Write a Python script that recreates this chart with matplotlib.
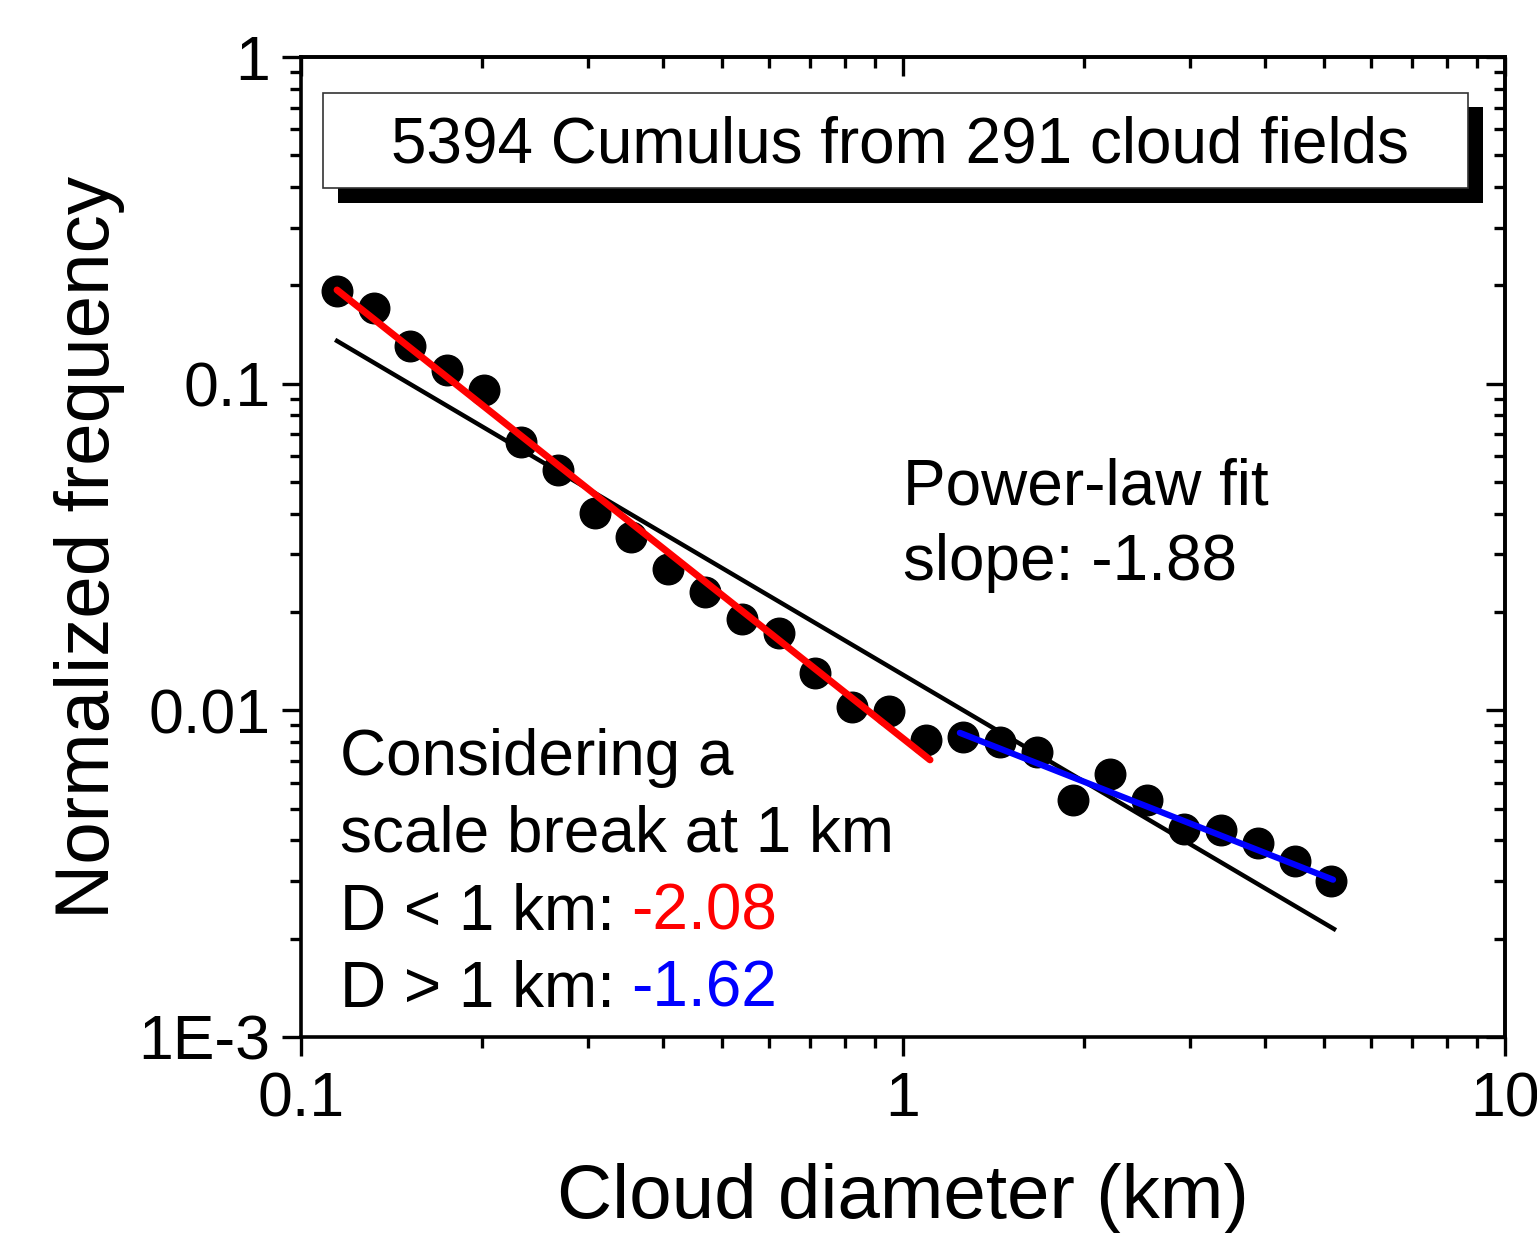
import matplotlib
matplotlib.use("Agg")
import matplotlib.pyplot as plt
from matplotlib.patches import Rectangle
from matplotlib.ticker import FixedLocator, FixedFormatter, NullFormatter, LogLocator

plt.rcParams['font.family'] = ['Liberation Sans', 'DejaVu Sans']

# cloud size distribution
diameter = [0.1148, 0.1322, 0.1518, 0.1748, 0.2014, 0.2319, 0.2673, 0.3079,
            0.3534, 0.4070, 0.4690, 0.5403, 0.6223, 0.7142, 0.8228, 0.9478,
            1.092, 1.258, 1.449, 1.670, 1.916, 2.208, 2.543, 2.930,
            3.375, 3.888, 4.479, 5.140]
frequency = [0.1922, 0.1705, 0.1304, 0.1101, 0.0956, 0.0663, 0.0544, 0.0402,
             0.0340, 0.0271, 0.0230, 0.0190, 0.0173, 0.0130, 0.01024, 0.00996,
             0.00812, 0.00829, 0.00800, 0.00746, 0.00532, 0.00639, 0.00532, 0.00434,
             0.00430, 0.00393, 0.00346, 0.00300]

# fit lines (end points)
fit_all_x = [0.1148, 5.20]
fit_all_y = [0.1351, 0.00214]
fit_small_x = [0.1148, 1.109]
fit_small_y = [0.1935, 0.00705]
fit_large_x = [1.243, 5.18]
fit_large_y = [0.00853, 0.00303]

xticks = [0.1, 1, 10]
xticklabels = ["0.1", "1", "10"]
yticks = [0.001, 0.01, 0.1, 1]
yticklabels = ["1E-3", "0.01", "0.1", "1"]

fig = plt.figure(figsize=(15.37, 12.33), dpi=100)
ax = fig.add_axes([0.1958, 0.1590, 0.7834, 0.7948])
ax.set_xscale('log')
ax.set_yscale('log')
ax.set_xlim(0.1, 10)
ax.set_ylim(0.001, 1)

ax.plot(diameter, frequency, 'o', color='black', markersize=22, zorder=2)
ax.plot(fit_all_x, fit_all_y, '-', color='black', lw=3.2, zorder=3)
ax.plot(fit_small_x, fit_small_y, '-', color='#ff0000', lw=5, zorder=4,
        solid_capstyle='round')
ax.plot(fit_large_x, fit_large_y, '-', color='#0000ff', lw=4.5, zorder=4,
        solid_capstyle='round')

for s in ax.spines.values():
    s.set_linewidth(2.6)

ax.xaxis.set_major_locator(FixedLocator(xticks))
ax.xaxis.set_major_formatter(FixedFormatter(xticklabels))
ax.yaxis.set_major_locator(FixedLocator(yticks))
ax.yaxis.set_major_formatter(FixedFormatter(yticklabels))
ax.xaxis.set_minor_locator(LogLocator(base=10, subs=range(2, 10)))
ax.yaxis.set_minor_locator(LogLocator(base=10, subs=range(2, 10)))
ax.xaxis.set_minor_formatter(NullFormatter())
ax.yaxis.set_minor_formatter(NullFormatter())
ax.tick_params(which='major', direction='out', length=14, width=2.4,
               labelsize=45, pad=8)
ax.tick_params(which='minor', direction='out', length=8, width=2.4)
ax.tick_params(axis='x', which='major', pad=10)

# mirrored ticks pointing inward on top and right
top = ax.secondary_xaxis('top')
right = ax.secondary_yaxis('right')
for sec, axis in ((top, top.xaxis), (right, right.yaxis)):
    axis.set_major_locator(FixedLocator(xticks if sec is top else yticks))
    axis.set_minor_locator(LogLocator(base=10, subs=range(2, 10)))
    axis.set_major_formatter(NullFormatter())
    axis.set_minor_formatter(NullFormatter())
    sec.tick_params(which='major', direction='in', length=14, width=2.4)
    sec.tick_params(which='minor', direction='in', length=8, width=2.4)
    for s in sec.spines.values():
        s.set_linewidth(2.6)

ax.set_xlabel("Cloud diameter (km)", fontsize=55, labelpad=24)
ax.set_ylabel("Normalized frequency", fontsize=55, labelpad=10)

# title box with drop shadow
ax.add_patch(Rectangle((0.0308, 0.851), 0.9513, 0.098, transform=ax.transAxes,
                       facecolor='black', edgecolor='none', zorder=5))
ax.add_patch(Rectangle((0.0183, 0.866), 0.9510, 0.097, transform=ax.transAxes,
                       facecolor='white', edgecolor='#333333', lw=1.2, zorder=6))
ax.text(0.4975, 0.8918, "5394 Cumulus from 291 cloud fields", transform=ax.transAxes,
        ha='center', va='baseline', fontsize=46, zorder=7)

ax.text(0.5, 0.5429, "Power-law fit", transform=ax.transAxes,
        ha='left', va='baseline', fontsize=46)
ax.text(0.5, 0.4663, "slope: -1.88", transform=ax.transAxes,
        ha='left', va='baseline', fontsize=46)

ax.text(0.0324, 0.2673, "Considering a", transform=ax.transAxes,
        ha='left', va='baseline', fontsize=46)
ax.text(0.0324, 0.1888, "scale break at 1 km", transform=ax.transAxes,
        ha='left', va='baseline', fontsize=46)
t1 = ax.text(0.0324, 0.1092, "D < 1 km:", transform=ax.transAxes,
             ha='left', va='baseline', fontsize=46)
t2 = ax.text(0.0324, 0.0306, "D > 1 km:", transform=ax.transAxes,
             ha='left', va='baseline', fontsize=46)
ax.annotate("-2.08", xy=(1, 0), xycoords=t1, xytext=(12, 0),
            textcoords='offset points', ha='left', va='bottom',
            fontsize=46, color='#ff0000')
ax.annotate("-1.62", xy=(1, 0), xycoords=t2, xytext=(12, 0),
            textcoords='offset points', ha='left', va='bottom',
            fontsize=46, color='#0000ff')

fig.savefig("out.png", dpi=100)
